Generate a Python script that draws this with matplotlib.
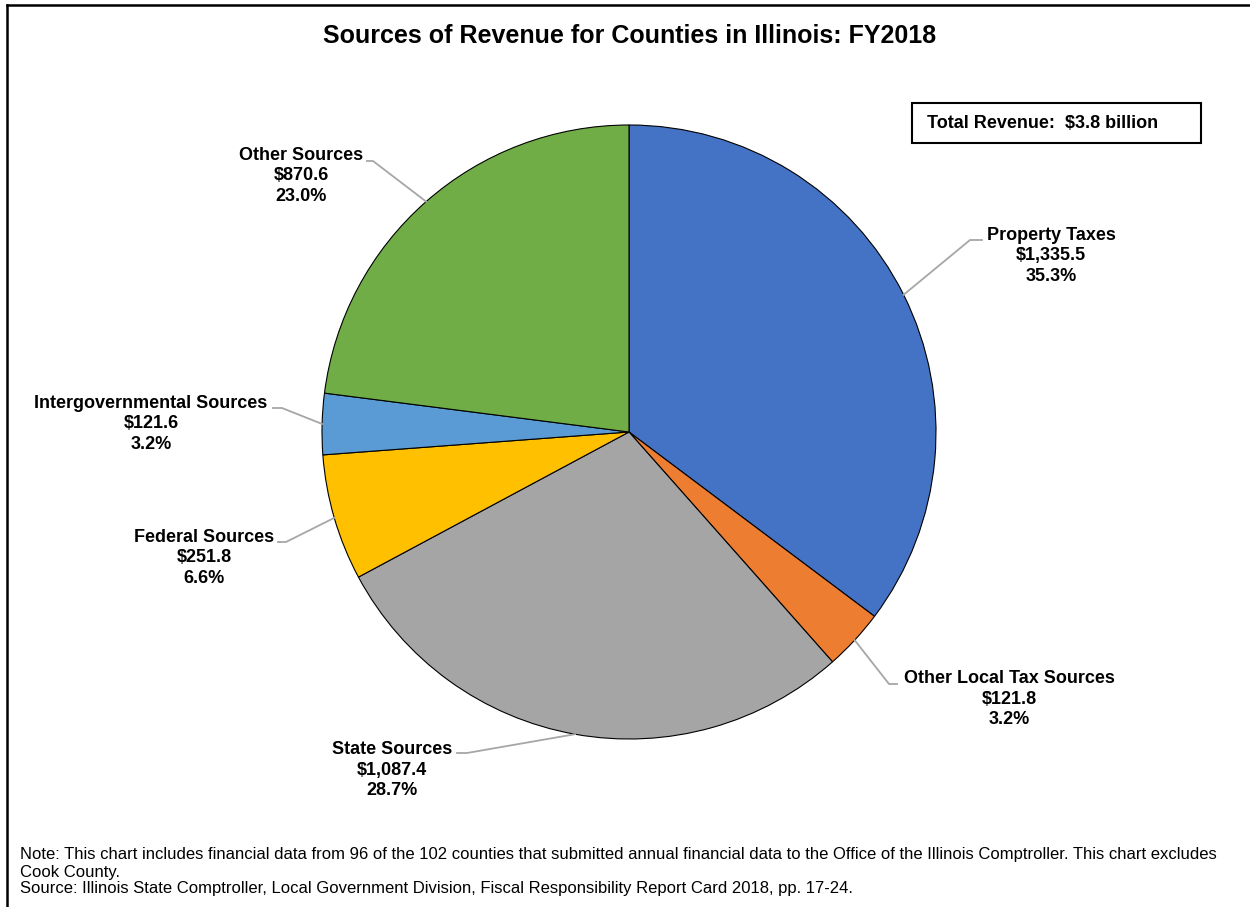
import numpy as np
import matplotlib
matplotlib.use('Agg')
import matplotlib.pyplot as plt
from matplotlib.lines import Line2D
from matplotlib.patches import Rectangle

plt.rcParams['font.family'] = ['Liberation Sans', 'DejaVu Sans']

# data ($ millions)
categories = ['Property Taxes', 'Other Local Tax Sources', 'State Sources',
              'Federal Sources', 'Intergovernmental Sources', 'Other Sources']
values = [1335.5, 121.8, 1087.4, 251.8, 121.6, 870.6]
pct_labels = ['35.3%', '3.2%', '28.7%', '6.6%', '3.2%', '23.0%']
colors = ['#4472C4', '#ED7D31', '#A5A5A5', '#FFC000', '#5B9BD5', '#70AD47']

title = 'Sources of Revenue for Counties in Illinois: FY2018'
total_text = 'Total Revenue:  $3.8 billion'
note_lines = ['Note: This chart includes financial data from 96 of the 102 counties that submitted annual financial data to the Office of the Illinois Comptroller. This chart excludes',
              'Cook County.',
              'Source: Illinois State Comptroller, Local Government Division, Fiscal Responsibility Report Card 2018, pp. 17-24.']

W, H = 1250, 907
CX, CY, R = 629, 432, 307

fig = plt.figure(figsize=(W / 100, H / 100), dpi=100)
ax = fig.add_axes([(CX - R) / W, (H - CY - R) / H, 2 * R / W, 2 * R / H])

wedges, _ = ax.pie(values, colors=colors, startangle=90, counterclock=False, radius=1,
                   wedgeprops=dict(edgecolor='black', linewidth=0.8))
ax.set_xlim(-1, 1)
ax.set_ylim(-1, 1)
ax.axis('off')


def px(x, y):
    # pixel position -> pie data coords
    return (x - CX) / R, (CY - y) / R


# label layout: text centre, elbow, line end (pixels)
layout = [
    ((1051, 256), (970, 240), (982, 240)),
    ((1009, 699), (889, 684), (897, 684)),
    ((392, 770), (467, 753), (457, 753)),
    ((204, 558), (286, 542), (278, 542)),
    ((151, 424), (282, 408), (273, 408)),
    ((301, 176), (373, 161), (367, 161)),
]

for w, cat, val, pct, (tpos, elbow, end) in zip(wedges, categories, values, pct_labels, layout):
    mid = np.deg2rad((w.theta1 + w.theta2) / 2)
    ax0, ay0 = np.cos(mid), np.sin(mid)
    ex, ey = px(*elbow)
    nx, ny = px(*end)
    ax.add_line(Line2D([ax0, ex, nx], [ay0, ey, ny], color='#A6A6A6', lw=1.3, clip_on=False))
    tx, ty = px(*tpos)
    ax.text(tx, ty, '{}\n${:,.1f}\n{}'.format(cat, val, pct), ha='center', va='center',
            fontsize=13, fontweight='bold', linespacing=1.3, clip_on=False)

fig.text(630 / W, 1 - 36 / H, title, ha='center', va='center', fontsize=18, fontweight='bold')

# total revenue box
fig.add_artist(Rectangle((912 / W, 1 - 143 / H), (1201 - 912) / W, 40 / H,
                         transform=fig.transFigure, fill=False, edgecolor='black', lw=1.5))
fig.text(927 / W, 1 - 123 / H, total_text, ha='left', va='center', fontsize=13, fontweight='bold')

# notes
for i, line in enumerate(note_lines):
    fig.text(20 / W, 1 - (855 + 17 * i) / H, line, ha='left', va='center', fontsize=12)

# outer frame (left and top edges visible)
fig.add_artist(Line2D([7 / W, 7 / W], [-0.01, 1 - 5 / H], color='black', lw=1.8,
                      transform=fig.transFigure))
fig.add_artist(Line2D([7 / W, 1.01], [1 - 5 / H, 1 - 5 / H], color='black', lw=1.8,
                      transform=fig.transFigure))

fig.savefig('out.png', dpi=100)
